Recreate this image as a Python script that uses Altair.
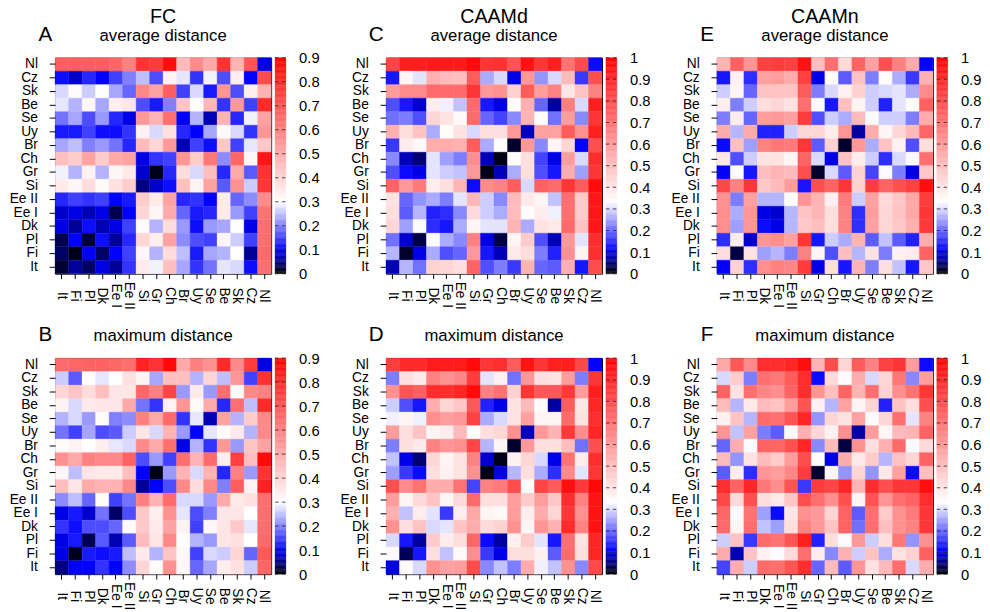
import altair as alt
import pandas as pd
import numpy as np

countries = ["It", "Fi", "Pl", "Dk", "Ee I", "Ee II", "Si", "Gr", "Ch", "Br", "Uy", "Se", "Be", "Sk", "Cz", "Nl"]
row_order = countries[::-1]  # Nl at top

# rows listed top (Nl) to bottom (It); columns It ... Nl
fc_avg = [
    [0.68, 0.68, 0.68, 0.68, 0.66, 0.60, 0.78, 0.76, 0.87, 0.46, 0.57, 0.50, 0.78, 0.48, 0.70, 0.09],
    [0.11, 0.08, 0.13, 0.10, 0.15, 0.20, 0.25, 0.16, 0.33, 0.28, 0.14, 0.29, 0.16, 0.34, 0.10, 0.72],
    [0.27, 0.31, 0.26, 0.30, 0.23, 0.18, 0.58, 0.52, 0.68, 0.15, 0.27, 0.12, 0.55, 0.16, 0.34, 0.48],
    [0.28, 0.24, 0.32, 0.23, 0.34, 0.36, 0.16, 0.12, 0.20, 0.44, 0.30, 0.47, 0.14, 0.54, 0.15, 0.80],
    [0.19, 0.23, 0.16, 0.22, 0.13, 0.09, 0.54, 0.48, 0.64, 0.10, 0.24, 0.07, 0.48, 0.13, 0.29, 0.52],
    [0.12, 0.12, 0.15, 0.11, 0.11, 0.14, 0.33, 0.27, 0.37, 0.13, 0.10, 0.23, 0.31, 0.27, 0.14, 0.55],
    [0.23, 0.25, 0.20, 0.22, 0.19, 0.13, 0.46, 0.40, 0.54, 0.07, 0.15, 0.11, 0.43, 0.15, 0.28, 0.43],
    [0.45, 0.42, 0.52, 0.42, 0.50, 0.52, 0.09, 0.14, 0.15, 0.55, 0.42, 0.62, 0.21, 0.66, 0.32, 0.85],
    [0.29, 0.24, 0.33, 0.24, 0.32, 0.35, 0.08, 0.01, 0.13, 0.38, 0.27, 0.45, 0.13, 0.50, 0.17, 0.78],
    [0.35, 0.32, 0.38, 0.31, 0.37, 0.42, 0.05, 0.08, 0.11, 0.45, 0.33, 0.52, 0.17, 0.56, 0.26, 0.77],
    [0.13, 0.15, 0.14, 0.15, 0.10, 0.12, 0.42, 0.35, 0.52, 0.13, 0.14, 0.10, 0.35, 0.18, 0.21, 0.57],
    [0.08, 0.09, 0.07, 0.09, 0.03, 0.10, 0.40, 0.32, 0.50, 0.18, 0.12, 0.13, 0.35, 0.22, 0.15, 0.63],
    [0.09, 0.06, 0.11, 0.07, 0.09, 0.15, 0.31, 0.24, 0.38, 0.22, 0.11, 0.22, 0.23, 0.30, 0.09, 0.64],
    [0.03, 0.10, 0.02, 0.11, 0.06, 0.13, 0.40, 0.34, 0.52, 0.21, 0.16, 0.15, 0.32, 0.26, 0.15, 0.64],
    [0.04, 0.01, 0.10, 0.04, 0.10, 0.15, 0.32, 0.24, 0.38, 0.25, 0.12, 0.23, 0.24, 0.30, 0.06, 0.65],
    [0.02, 0.06, 0.04, 0.09, 0.06, 0.14, 0.35, 0.29, 0.45, 0.23, 0.14, 0.19, 0.28, 0.27, 0.11, 0.64],
]

fc_max = [
    [0.65, 0.66, 0.67, 0.67, 0.66, 0.64, 0.82, 0.78, 0.88, 0.50, 0.60, 0.56, 0.80, 0.58, 0.76, 0.09],
    [0.26, 0.17, 0.30, 0.28, 0.30, 0.37, 0.33, 0.23, 0.45, 0.45, 0.24, 0.40, 0.25, 0.55, 0.15, 0.78],
    [0.40, 0.44, 0.38, 0.45, 0.36, 0.36, 0.66, 0.60, 0.74, 0.22, 0.35, 0.22, 0.64, 0.31, 0.58, 0.60],
    [0.33, 0.27, 0.35, 0.36, 0.36, 0.50, 0.19, 0.14, 0.33, 0.55, 0.31, 0.50, 0.13, 0.64, 0.25, 0.80],
    [0.24, 0.27, 0.22, 0.31, 0.20, 0.21, 0.60, 0.50, 0.65, 0.14, 0.28, 0.07, 0.52, 0.24, 0.42, 0.58],
    [0.19, 0.15, 0.23, 0.16, 0.17, 0.26, 0.36, 0.27, 0.48, 0.22, 0.10, 0.28, 0.31, 0.35, 0.24, 0.58],
    [0.31, 0.33, 0.30, 0.34, 0.28, 0.27, 0.58, 0.50, 0.64, 0.09, 0.24, 0.14, 0.54, 0.22, 0.44, 0.52],
    [0.56, 0.50, 0.60, 0.58, 0.58, 0.67, 0.16, 0.22, 0.15, 0.64, 0.48, 0.65, 0.34, 0.75, 0.45, 0.88],
    [0.32, 0.25, 0.36, 0.35, 0.35, 0.45, 0.10, 0.01, 0.22, 0.48, 0.27, 0.48, 0.13, 0.60, 0.22, 0.78],
    [0.45, 0.36, 0.50, 0.48, 0.48, 0.58, 0.06, 0.10, 0.16, 0.58, 0.38, 0.58, 0.20, 0.68, 0.33, 0.82],
    [0.21, 0.25, 0.18, 0.31, 0.15, 0.19, 0.60, 0.48, 0.65, 0.27, 0.27, 0.22, 0.50, 0.35, 0.37, 0.64],
    [0.09, 0.12, 0.08, 0.19, 0.04, 0.16, 0.43, 0.34, 0.56, 0.28, 0.16, 0.20, 0.36, 0.36, 0.30, 0.64],
    [0.14, 0.11, 0.16, 0.16, 0.18, 0.31, 0.43, 0.35, 0.52, 0.33, 0.15, 0.32, 0.36, 0.43, 0.28, 0.64],
    [0.09, 0.12, 0.03, 0.17, 0.07, 0.17, 0.46, 0.36, 0.58, 0.30, 0.24, 0.22, 0.36, 0.37, 0.30, 0.65],
    [0.09, 0.01, 0.12, 0.11, 0.12, 0.25, 0.35, 0.24, 0.44, 0.32, 0.15, 0.27, 0.26, 0.40, 0.18, 0.69],
    [0.05, 0.10, 0.10, 0.14, 0.10, 0.21, 0.40, 0.31, 0.56, 0.32, 0.18, 0.23, 0.34, 0.37, 0.26, 0.66],
]

caamd_avg = [
    [0.82, 0.92, 0.92, 0.93, 0.93, 0.93, 0.97, 0.86, 0.87, 0.78, 0.95, 0.86, 0.92, 0.70, 0.80, 0.12],
    [0.13, 0.36, 0.31, 0.54, 0.51, 0.50, 0.76, 0.26, 0.30, 0.10, 0.60, 0.24, 0.30, 0.51, 0.16, 0.79],
    [0.59, 0.64, 0.64, 0.72, 0.72, 0.72, 0.86, 0.60, 0.62, 0.45, 0.76, 0.59, 0.66, 0.40, 0.49, 0.66],
    [0.18, 0.13, 0.09, 0.38, 0.32, 0.28, 0.72, 0.13, 0.10, 0.34, 0.54, 0.20, 0.07, 0.67, 0.30, 0.92],
    [0.21, 0.22, 0.18, 0.44, 0.41, 0.35, 0.72, 0.20, 0.17, 0.23, 0.53, 0.34, 0.21, 0.59, 0.23, 0.86],
    [0.54, 0.42, 0.49, 0.26, 0.34, 0.41, 0.30, 0.42, 0.42, 0.60, 0.08, 0.58, 0.58, 0.76, 0.62, 0.92],
    [0.16, 0.38, 0.35, 0.55, 0.55, 0.54, 0.76, 0.26, 0.34, 0.02, 0.60, 0.23, 0.36, 0.44, 0.11, 0.79],
    [0.23, 0.08, 0.05, 0.31, 0.25, 0.22, 0.63, 0.08, 0.01, 0.34, 0.42, 0.17, 0.10, 0.59, 0.30, 0.88],
    [0.18, 0.12, 0.10, 0.31, 0.29, 0.28, 0.60, 0.01, 0.08, 0.26, 0.42, 0.18, 0.13, 0.55, 0.25, 0.86],
    [0.74, 0.60, 0.68, 0.38, 0.42, 0.53, 0.12, 0.64, 0.66, 0.76, 0.30, 0.75, 0.72, 0.86, 0.76, 0.97],
    [0.41, 0.20, 0.24, 0.26, 0.22, 0.31, 0.52, 0.29, 0.23, 0.51, 0.39, 0.36, 0.28, 0.71, 0.47, 0.94],
    [0.42, 0.19, 0.27, 0.14, 0.15, 0.23, 0.43, 0.29, 0.26, 0.51, 0.34, 0.38, 0.32, 0.71, 0.47, 0.94],
    [0.44, 0.25, 0.33, 0.15, 0.13, 0.26, 0.36, 0.31, 0.31, 0.53, 0.26, 0.41, 0.39, 0.72, 0.49, 0.94],
    [0.21, 0.09, 0.03, 0.33, 0.26, 0.23, 0.66, 0.10, 0.03, 0.36, 0.47, 0.18, 0.08, 0.60, 0.31, 0.88],
    [0.27, 0.02, 0.10, 0.26, 0.18, 0.20, 0.60, 0.13, 0.08, 0.39, 0.42, 0.22, 0.14, 0.62, 0.36, 0.88],
    [0.08, 0.27, 0.21, 0.45, 0.44, 0.42, 0.74, 0.18, 0.22, 0.16, 0.53, 0.20, 0.19, 0.54, 0.13, 0.80],
]

caamd_max = [
    [0.84, 0.89, 0.89, 0.93, 0.93, 0.93, 0.97, 0.86, 0.88, 0.76, 0.95, 0.86, 0.92, 0.92, 0.81, 0.11],
    [0.22, 0.42, 0.39, 0.66, 0.62, 0.65, 0.84, 0.31, 0.37, 0.21, 0.60, 0.42, 0.41, 0.59, 0.22, 0.86],
    [0.62, 0.78, 0.75, 0.88, 0.88, 0.90, 0.97, 0.66, 0.70, 0.45, 0.86, 0.77, 0.77, 0.85, 0.59, 0.92],
    [0.29, 0.18, 0.13, 0.55, 0.44, 0.48, 0.77, 0.14, 0.10, 0.41, 0.51, 0.34, 0.07, 0.76, 0.40, 0.90],
    [0.32, 0.36, 0.32, 0.63, 0.59, 0.61, 0.83, 0.26, 0.30, 0.41, 0.58, 0.36, 0.36, 0.72, 0.41, 0.88],
    [0.59, 0.42, 0.49, 0.36, 0.38, 0.51, 0.34, 0.42, 0.44, 0.62, 0.08, 0.60, 0.53, 0.85, 0.63, 0.90],
    [0.22, 0.42, 0.39, 0.66, 0.61, 0.63, 0.82, 0.27, 0.36, 0.02, 0.60, 0.42, 0.42, 0.50, 0.21, 0.79],
    [0.28, 0.10, 0.05, 0.44, 0.36, 0.41, 0.66, 0.09, 0.01, 0.37, 0.44, 0.30, 0.10, 0.70, 0.38, 0.88],
    [0.25, 0.16, 0.12, 0.42, 0.37, 0.41, 0.62, 0.01, 0.10, 0.27, 0.42, 0.26, 0.15, 0.64, 0.31, 0.86],
    [0.79, 0.64, 0.70, 0.55, 0.55, 0.70, 0.17, 0.66, 0.68, 0.80, 0.34, 0.82, 0.76, 0.96, 0.85, 0.98],
    [0.59, 0.36, 0.43, 0.49, 0.36, 0.43, 0.72, 0.42, 0.42, 0.59, 0.47, 0.59, 0.48, 0.88, 0.66, 0.95],
    [0.54, 0.28, 0.38, 0.31, 0.16, 0.38, 0.56, 0.36, 0.35, 0.59, 0.38, 0.55, 0.44, 0.86, 0.62, 0.95],
    [0.62, 0.42, 0.49, 0.30, 0.31, 0.49, 0.55, 0.43, 0.45, 0.62, 0.36, 0.61, 0.54, 0.89, 0.66, 0.95],
    [0.30, 0.13, 0.07, 0.47, 0.38, 0.42, 0.73, 0.12, 0.07, 0.37, 0.47, 0.31, 0.13, 0.71, 0.41, 0.90],
    [0.35, 0.04, 0.13, 0.42, 0.28, 0.35, 0.63, 0.16, 0.10, 0.42, 0.42, 0.37, 0.19, 0.72, 0.42, 0.90],
    [0.10, 0.35, 0.30, 0.62, 0.58, 0.59, 0.80, 0.23, 0.28, 0.22, 0.55, 0.32, 0.28, 0.62, 0.23, 0.81],
]

caamn_avg = [
    [0.53, 0.75, 0.61, 0.83, 0.84, 0.83, 0.95, 0.50, 0.71, 0.43, 0.74, 0.58, 0.79, 0.66, 0.55, 0.11],
    [0.13, 0.37, 0.15, 0.58, 0.59, 0.55, 0.83, 0.10, 0.34, 0.19, 0.49, 0.22, 0.34, 0.26, 0.16, 0.54],
    [0.29, 0.36, 0.20, 0.49, 0.49, 0.49, 0.76, 0.22, 0.30, 0.37, 0.45, 0.29, 0.30, 0.31, 0.26, 0.64],
    [0.38, 0.22, 0.29, 0.42, 0.44, 0.41, 0.71, 0.33, 0.13, 0.50, 0.36, 0.29, 0.14, 0.31, 0.34, 0.75],
    [0.22, 0.38, 0.20, 0.59, 0.60, 0.58, 0.84, 0.18, 0.29, 0.26, 0.51, 0.33, 0.29, 0.29, 0.22, 0.55],
    [0.55, 0.27, 0.55, 0.14, 0.14, 0.29, 0.44, 0.44, 0.38, 0.61, 0.07, 0.55, 0.36, 0.44, 0.51, 0.73],
    [0.12, 0.50, 0.25, 0.66, 0.69, 0.68, 0.86, 0.19, 0.45, 0.02, 0.60, 0.26, 0.49, 0.37, 0.18, 0.42],
    [0.40, 0.18, 0.29, 0.41, 0.41, 0.36, 0.74, 0.30, 0.10, 0.49, 0.38, 0.29, 0.15, 0.30, 0.33, 0.71],
    [0.11, 0.34, 0.13, 0.50, 0.53, 0.51, 0.79, 0.02, 0.30, 0.19, 0.45, 0.17, 0.33, 0.22, 0.10, 0.48],
    [0.81, 0.66, 0.86, 0.48, 0.51, 0.59, 0.13, 0.79, 0.74, 0.86, 0.45, 0.84, 0.74, 0.79, 0.83, 0.96],
    [0.62, 0.22, 0.58, 0.27, 0.27, 0.34, 0.61, 0.53, 0.37, 0.68, 0.29, 0.58, 0.43, 0.48, 0.56, 0.84],
    [0.63, 0.26, 0.61, 0.10, 0.09, 0.27, 0.49, 0.53, 0.42, 0.66, 0.15, 0.59, 0.44, 0.49, 0.56, 0.86],
    [0.63, 0.25, 0.61, 0.12, 0.10, 0.27, 0.48, 0.50, 0.42, 0.66, 0.15, 0.58, 0.44, 0.48, 0.54, 0.85],
    [0.15, 0.38, 0.09, 0.61, 0.63, 0.58, 0.86, 0.13, 0.29, 0.26, 0.53, 0.19, 0.28, 0.19, 0.14, 0.55],
    [0.42, 0.03, 0.41, 0.25, 0.27, 0.22, 0.66, 0.36, 0.18, 0.50, 0.27, 0.41, 0.22, 0.37, 0.38, 0.74],
    [0.11, 0.45, 0.15, 0.63, 0.66, 0.65, 0.84, 0.10, 0.42, 0.13, 0.53, 0.22, 0.42, 0.28, 0.13, 0.48],
]

caamn_max = [
    [0.56, 0.77, 0.64, 0.88, 0.88, 0.90, 0.96, 0.53, 0.80, 0.44, 0.76, 0.66, 0.83, 0.86, 0.59, 0.12],
    [0.30, 0.47, 0.22, 0.71, 0.69, 0.76, 0.88, 0.12, 0.43, 0.33, 0.55, 0.30, 0.44, 0.69, 0.23, 0.59],
    [0.74, 0.41, 0.71, 0.65, 0.63, 0.74, 0.88, 0.61, 0.50, 0.74, 0.53, 0.71, 0.45, 0.63, 0.70, 0.86],
    [0.51, 0.27, 0.39, 0.51, 0.49, 0.59, 0.78, 0.37, 0.27, 0.58, 0.36, 0.44, 0.14, 0.49, 0.42, 0.79],
    [0.37, 0.49, 0.27, 0.72, 0.71, 0.78, 0.90, 0.24, 0.44, 0.41, 0.58, 0.33, 0.44, 0.71, 0.31, 0.66],
    [0.61, 0.28, 0.58, 0.22, 0.19, 0.35, 0.54, 0.44, 0.37, 0.63, 0.07, 0.59, 0.36, 0.51, 0.53, 0.74],
    [0.20, 0.55, 0.33, 0.74, 0.73, 0.79, 0.90, 0.23, 0.51, 0.03, 0.62, 0.42, 0.54, 0.72, 0.33, 0.43],
    [0.51, 0.24, 0.41, 0.51, 0.47, 0.59, 0.80, 0.34, 0.10, 0.55, 0.39, 0.47, 0.27, 0.49, 0.44, 0.74],
    [0.19, 0.38, 0.15, 0.61, 0.59, 0.65, 0.84, 0.02, 0.36, 0.24, 0.44, 0.24, 0.39, 0.58, 0.12, 0.50],
    [0.88, 0.74, 0.90, 0.69, 0.63, 0.78, 0.16, 0.84, 0.82, 0.90, 0.53, 0.88, 0.79, 0.86, 0.86, 0.96],
    [0.81, 0.43, 0.79, 0.42, 0.39, 0.48, 0.79, 0.71, 0.63, 0.79, 0.36, 0.78, 0.61, 0.71, 0.74, 0.88],
    [0.73, 0.33, 0.70, 0.25, 0.12, 0.40, 0.62, 0.60, 0.44, 0.74, 0.19, 0.71, 0.47, 0.62, 0.68, 0.86],
    [0.72, 0.36, 0.71, 0.28, 0.25, 0.42, 0.66, 0.60, 0.49, 0.74, 0.21, 0.71, 0.50, 0.62, 0.66, 0.86],
    [0.29, 0.49, 0.16, 0.72, 0.70, 0.78, 0.92, 0.14, 0.42, 0.33, 0.60, 0.29, 0.42, 0.69, 0.24, 0.62],
    [0.55, 0.08, 0.49, 0.37, 0.33, 0.43, 0.71, 0.38, 0.23, 0.54, 0.29, 0.49, 0.26, 0.41, 0.45, 0.75],
    [0.17, 0.55, 0.29, 0.72, 0.71, 0.78, 0.88, 0.20, 0.51, 0.19, 0.61, 0.41, 0.51, 0.71, 0.30, 0.55],
]

FONT = "Liberation Sans"
PLOT = 220      # heatmap side
BAR_X0, BAR_X1 = 224, 235   # colour bar position relative to heatmap


def panel(matrix, vmax, letter, title, subtitle=None):
    recs = []
    for i, r in enumerate(row_order):
        for j, c in enumerate(countries):
            recs.append({"row": r, "col": c, "value": matrix[i][j]})
    df = pd.DataFrame(recs)

    cscale = alt.Scale(domain=[0, vmax / 9, vmax / 3, vmax],
                       range=["#000000", "#0000ff", "#ffffff", "#ff0000"],
                       interpolate="rgb", clamp=True)

    heat = alt.Chart(df).mark_rect(strokeWidth=0.4).encode(
        x=alt.X("col:N", sort=countries,
                scale=alt.Scale(paddingInner=0, paddingOuter=0),
                axis=alt.Axis(title=None, labelAngle=90, labelAlign="center",
                              labelBaseline="middle", labelPadding=17,
                              labelFontSize=14, labelFont=FONT, labelColor="black",
                              tickColor="black", tickSize=5, domain=False,
                              labelOverlap=False, labelBound=False)),
        y=alt.Y("row:N", sort=row_order,
                scale=alt.Scale(paddingInner=0, paddingOuter=0),
                axis=alt.Axis(title=None, labelFontSize=14, labelFont=FONT,
                              labelColor="black", tickColor="black", tickSize=6,
                              labelPadding=12, domain=False, labelOverlap=False)),
        color=alt.Color("value:Q", scale=cscale, legend=None),
        stroke=alt.Stroke("value:Q", scale=cscale, legend=None),
    )

    letter_mark = alt.Chart(pd.DataFrame({"t": [letter]})).mark_text(
        fontSize=21, font=FONT, align="center", baseline="alphabetic", color="black"
    ).encode(x=alt.value(-10), y=alt.value(-17), text="t:N")

    steps = np.linspace(0, vmax, 181)
    cb = pd.DataFrame({"lo": steps[:-1], "hi": steps[1:]})
    cb["mid"] = (cb["lo"] + cb["hi"]) / 2
    ticks = [round(k * 0.1, 1) for k in range(0, int(round(vmax * 10)) + 1)]
    yscale = alt.Scale(domain=[0, vmax], nice=False, zero=False)
    baxis = alt.Axis(orient="right", values=ticks, format=".1~f",
                     ticks=False, domain=False, grid=False, title=None,
                     offset=0, labelPadding=BAR_X1 - PLOT + 13,
                     labelFontSize=15, labelFont=FONT, labelColor="black",
                     labelOverlap=False)

    bar = alt.Chart(cb).mark_rect(strokeWidth=0.4).encode(
        x=alt.value(BAR_X0), x2=alt.value(BAR_X1),
        y=alt.Y("lo:Q", scale=yscale, axis=baxis),
        y2="hi:Q",
        color=alt.Color("mid:Q", scale=cscale, legend=None),
        stroke=alt.Stroke("mid:Q", scale=cscale, legend=None),
    )
    dashes = alt.Chart(pd.DataFrame({"lo": ticks})).mark_rule(
        color="#222222", strokeWidth=1, strokeDash=[3.5, 3.5], opacity=0.8
    ).encode(y=alt.Y("lo:Q", scale=yscale, axis=baxis),
             x=alt.value(BAR_X0), x2=alt.value(BAR_X1 + 0.5))

    left = alt.layer(heat, letter_mark)
    right = alt.layer(bar, dashes)
    if subtitle is not None:
        tp = alt.TitleParams(text=title, subtitle=subtitle, fontSize=20,
                             subtitleFontSize=17, anchor="middle", frame="group",
                             font=FONT, subtitleFont=FONT, fontWeight="normal",
                             color="black", subtitleColor="black",
                             offset=-20, subtitlePadding=1)
    else:
        tp = alt.TitleParams(text=title, fontSize=17, anchor="middle", frame="group",
                             font=FONT, fontWeight="normal", color="black",
                             offset=-21)
    return alt.layer(left, right).resolve_scale(y="independent").properties(
        width=PLOT, height=PLOT, title=tp)


pA = panel(fc_avg, 0.9, "A", "FC", "average distance")
pC = panel(caamd_avg, 1.0, "C", "CAAMd", "average distance")
pE = panel(caamn_avg, 1.0, "E", "CAAMn", "average distance")
pB = panel(fc_max, 0.9, "B", "maximum distance")
pD = panel(caamd_max, 1.0, "D", "maximum distance")
pF = panel(caamn_max, 1.0, "F", "maximum distance")

res = dict(color="independent", stroke="independent", x="independent", y="independent")
row1 = alt.hconcat(pA, pC, pE, spacing=19).resolve_scale(**res)
row2 = alt.hconcat(pB, pD, pF, spacing=19).resolve_scale(**res)

chart = alt.vconcat(row1, row2, spacing=14).resolve_scale(**res).configure_view(
    stroke="black", strokeWidth=1
).properties(padding={"left": 0, "top": -7, "right": 0, "bottom": 0})

chart.save("out.html", embed_options={"renderer": "svg", "actions": False})
